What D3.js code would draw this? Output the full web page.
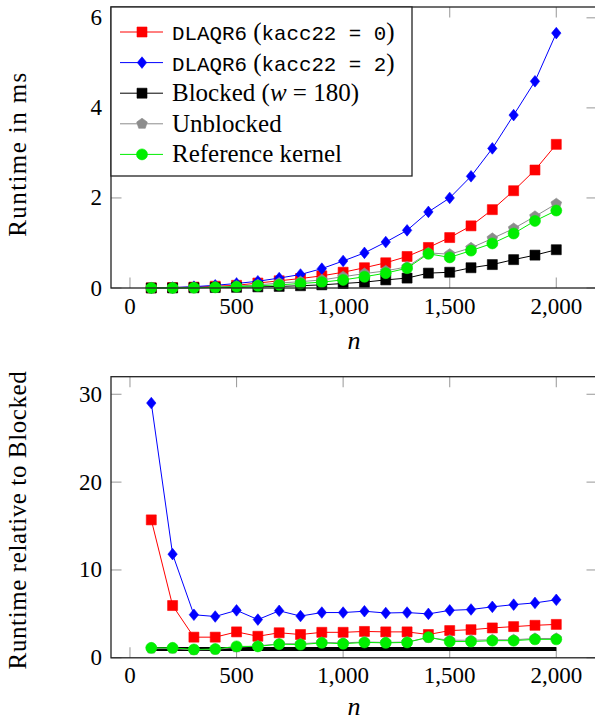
<!DOCTYPE html>
<html>
<head>
<meta charset="utf-8">
<script src="https://cdn.jsdelivr.net/npm/d3@7"></script>
<style>
  html, body { margin: 0; padding: 0; background: #fff; }
  svg { display: block; }
  text { font-family: "Liberation Serif", "Times New Roman", serif; fill: #000; }
  .tt { font-family: "Liberation Mono", "DejaVu Sans Mono", monospace; }
</style>
</head>
<body>
<svg id="chart" width="595" height="722"></svg>
<script>
// Matrix sizes n
const nValues = [100, 200, 300, 400, 500, 600, 700, 800, 900, 1000,
                 1100, 1200, 1300, 1400, 1500, 1600, 1700, 1800, 1900, 2000];

// Runtime in ms
const kacc0Runtime = [0.003, 0.01, 0.02, 0.04, 0.06, 0.11, 0.16, 0.21, 0.27, 0.35,
                      0.45, 0.56, 0.70, 0.90, 1.12, 1.38, 1.74, 2.16, 2.62, 3.19];
const kacc2Runtime = [0.005, 0.01, 0.03, 0.06, 0.10, 0.15, 0.22, 0.30, 0.43, 0.60,
                      0.78, 1.02, 1.28, 1.69, 2.00, 2.48, 3.10, 3.84, 4.59, 5.66];
const blockedRuntime = [0.001, 0.002, 0.005, 0.01, 0.015, 0.025, 0.035, 0.05, 0.07, 0.10,
                        0.13, 0.18, 0.22, 0.33, 0.35, 0.45, 0.52, 0.63, 0.73, 0.85];
const unblockedRuntime = [0.001, 0.003, 0.008, 0.02, 0.04, 0.07, 0.11, 0.14, 0.18, 0.25,
                          0.32, 0.38, 0.47, 0.78, 0.75, 0.89, 1.10, 1.32, 1.59, 1.87];
const referenceRuntime = [0.001, 0.002, 0.006, 0.015, 0.03, 0.05, 0.07, 0.10, 0.13, 0.18,
                          0.25, 0.33, 0.44, 0.76, 0.68, 0.83, 0.99, 1.21, 1.49, 1.72];

// Runtime relative to Blocked
const kacc0Relative = [15.7, 5.95, 2.35, 2.35, 2.95, 2.45, 2.85, 2.65, 2.9, 2.9,
                       3.0, 2.95, 2.95, 2.65, 3.1, 3.2, 3.4, 3.55, 3.7, 3.8];
const kacc2Relative = [29.0, 11.8, 4.9, 4.7, 5.4, 4.35, 5.35, 4.75, 5.15, 5.15,
                       5.3, 5.1, 5.15, 5.0, 5.4, 5.5, 5.8, 6.05, 6.25, 6.6];
const blockedRelative = [1, 1, 1, 1, 1, 1, 1, 1, 1, 1,
                         1, 1, 1, 1, 1, 1, 1, 1, 1, 1];
const unblockedRelative = [1.05, 1.05, 0.9, 0.95, 1.2, 1.35, 1.6, 1.6, 1.75, 1.7,
                           1.8, 1.75, 1.8, 2.3, 2.0, 2.0, 2.05, 2.05, 2.2, 2.2];
const referenceRelative = [1.13, 1.13, 0.95, 1.0, 1.3, 1.3, 1.55, 1.5, 1.7, 1.6,
                           1.75, 1.7, 1.75, 2.35, 1.85, 1.85, 1.95, 1.95, 2.1, 2.1];

// Tick values
const xTicks = [0, 500, 1000, 1500, 2000];
const yTicksRuntime = [0, 2, 4, 6];
const yTicksRelative = [0, 10, 20, 30];

const svg = d3.select("#chart");

// Marker shapes
function markerPath(kind) {
  if (kind === "square") return "M-5,-5H5V5H-5Z";
  if (kind === "diamond") return "M0,-5.8L4.7,0L0,5.8L-4.7,0Z";
  if (kind === "pentagon") {
    const r = 5.6;
    const pts = d3.range(5).map(i => {
      const a = -Math.PI / 2 + i * 2 * Math.PI / 5;
      return [r * Math.cos(a), r * Math.sin(a)];
    });
    return "M" + pts.map(p => p.join(",")).join("L") + "Z";
  }
  if (kind === "circle") return d3.symbol(d3.symbolCircle, Math.PI * 5.5 * 5.5)();
  return null;
}

function drawMarker(g, kind, color, x, y) {
  g.append("path")
    .attr("d", markerPath(kind))
    .attr("transform", `translate(${x},${y})`)
    .attr("fill", color)
    .attr("stroke", color)
    .attr("stroke-width", 0.6);
}

const xDomain = [-89, 2191];

function drawPanel(cfg) {
  const { top, bottom, left, right, yMax, yTicks, series, yLabel, yLabelY } = cfg;
  const g = svg.append("g");
  const x = d3.scaleLinear().domain(xDomain).range([left, right]);
  const y = d3.scaleLinear().domain([0, yMax]).range([bottom, top]);
  const tickLen = 10.5;
  const tickColor = "#a0a0a0";

  // inward ticks on all four sides
  const ticks = g.append("g").attr("stroke", tickColor).attr("stroke-width", 1.1);
  xTicks.forEach(t => {
    ticks.append("line").attr("x1", x(t)).attr("x2", x(t)).attr("y1", bottom).attr("y2", bottom - tickLen);
    ticks.append("line").attr("x1", x(t)).attr("x2", x(t)).attr("y1", top).attr("y2", top + tickLen);
  });
  yTicks.forEach(t => {
    ticks.append("line").attr("x1", left).attr("x2", left + tickLen).attr("y1", y(t)).attr("y2", y(t));
    ticks.append("line").attr("x1", right).attr("x2", right - tickLen).attr("y1", y(t)).attr("y2", y(t));
  });

  // tick labels
  const fmt = d3.format(",");
  xTicks.forEach(t => {
    g.append("text").attr("x", x(t)).attr("y", bottom + 25.5)
      .attr("text-anchor", "middle").attr("font-size", 23).text(fmt(t));
  });
  yTicks.forEach(t => {
    g.append("text").attr("x", left - 9).attr("y", y(t) + 7.5)
      .attr("text-anchor", "end").attr("font-size", 23).text(fmt(t));
  });

  // series: line first, then markers on top
  series.forEach(s => {
    const pts = nValues.map((n, i) => [x(n), y(s.values[i])]);
    g.append("path")
      .attr("d", d3.line()(pts))
      .attr("fill", "none")
      .attr("stroke", s.color)
      .attr("stroke-width", s.lineWidth || 1);
    if (s.marker) {
      const mg = g.append("g");
      pts.forEach(p => drawMarker(mg, s.marker, s.color, p[0], p[1]));
    }
  });

  // frame
  g.append("rect")
    .attr("x", left).attr("y", top)
    .attr("width", right - left).attr("height", bottom - top)
    .attr("fill", "none").attr("stroke", "#222").attr("stroke-width", 1.3);

  // axis labels
  g.append("text")
    .attr("x", (left + right) / 2).attr("y", bottom + cfg.nOffset)
    .attr("text-anchor", "middle").attr("font-size", 26).attr("font-style", "italic")
    .text("n");
  g.append("text")
    .attr("transform", `translate(26,${yLabelY}) rotate(-90)`)
    .attr("text-anchor", "middle").attr("font-size", 25)
    .attr("letter-spacing", cfg.labelSpacing)
    .text(yLabel);

  return { g, x, y };
}

const colors = { red: "#ff0000", blue: "#0000ff", black: "#000000", gray: "#8c8c8c", green: "#00ee00" };

drawPanel({
  top: 7, bottom: 288, left: 111, right: 597,
  yMax: 6.24, yTicks: yTicksRuntime, nOffset: 61,
  yLabel: "Runtime in ms", yLabelY: 154, labelSpacing: 1.4,
  series: [
    { values: kacc0Runtime, color: colors.red, marker: "square" },
    { values: kacc2Runtime, color: colors.blue, marker: "diamond" },
    { values: blockedRuntime, color: colors.black, marker: "square" },
    { values: unblockedRuntime, color: colors.gray, marker: "pentagon" },
    { values: referenceRuntime, color: colors.green, marker: "circle" }
  ]
});

drawPanel({
  top: 376.7, bottom: 657.8, left: 111, right: 597,
  yMax: 32, yTicks: yTicksRelative, nOffset: 57.5,
  yLabel: "Runtime relative to Blocked", yLabelY: 520, labelSpacing: 0.6,
  series: [
    { values: kacc0Relative, color: colors.red, marker: "square" },
    { values: kacc2Relative, color: colors.blue, marker: "diamond" },
    { values: blockedRelative, color: colors.black, marker: null, lineWidth: 4 },
    { values: unblockedRelative, color: colors.gray, marker: "pentagon" },
    { values: referenceRelative, color: colors.green, marker: "circle" }
  ]
});

// Legend (upper panel)
const legendEntries = [
  { color: colors.red, marker: "square", parts: [["tt", "DLAQR6"], ["rm", " ("], ["tt", "kacc22 = 0"], ["rm", ")"]] },
  { color: colors.blue, marker: "diamond", parts: [["tt", "DLAQR6"], ["rm", " ("], ["tt", "kacc22 = 2"], ["rm", ")"]] },
  { color: colors.black, marker: "square", parts: [["rm", "Blocked ("], ["it", "w"], ["rm", " = 180)"]] },
  { color: colors.gray, marker: "pentagon", parts: [["rm", "Unblocked"]] },
  { color: colors.green, marker: "circle", parts: [["rm", "Reference kernel"]] }
];

const legend = svg.append("g");
legend.append("rect")
  .attr("x", 111).attr("y", 7).attr("width", 301).attr("height", 169)
  .attr("fill", "#fff").attr("stroke", "#222").attr("stroke-width", 1.3);

legendEntries.forEach((e, i) => {
  const cy = 32 + i * 30.6;
  legend.append("line")
    .attr("x1", 120).attr("x2", 163).attr("y1", cy).attr("y2", cy)
    .attr("stroke", e.color).attr("stroke-width", 1);
  drawMarker(legend, e.marker, e.color, 142, cy);
  const t = legend.append("text").attr("x", 172).attr("y", cy + 8).attr("font-size", 25);
  e.parts.forEach(([kind, str]) => {
    const sp = t.append("tspan").text(str);
    if (kind === "tt") sp.attr("class", "tt").attr("font-size", 20.8);
    if (kind === "it") sp.attr("font-style", "italic");
  });
});
</script>
</body>
</html>
